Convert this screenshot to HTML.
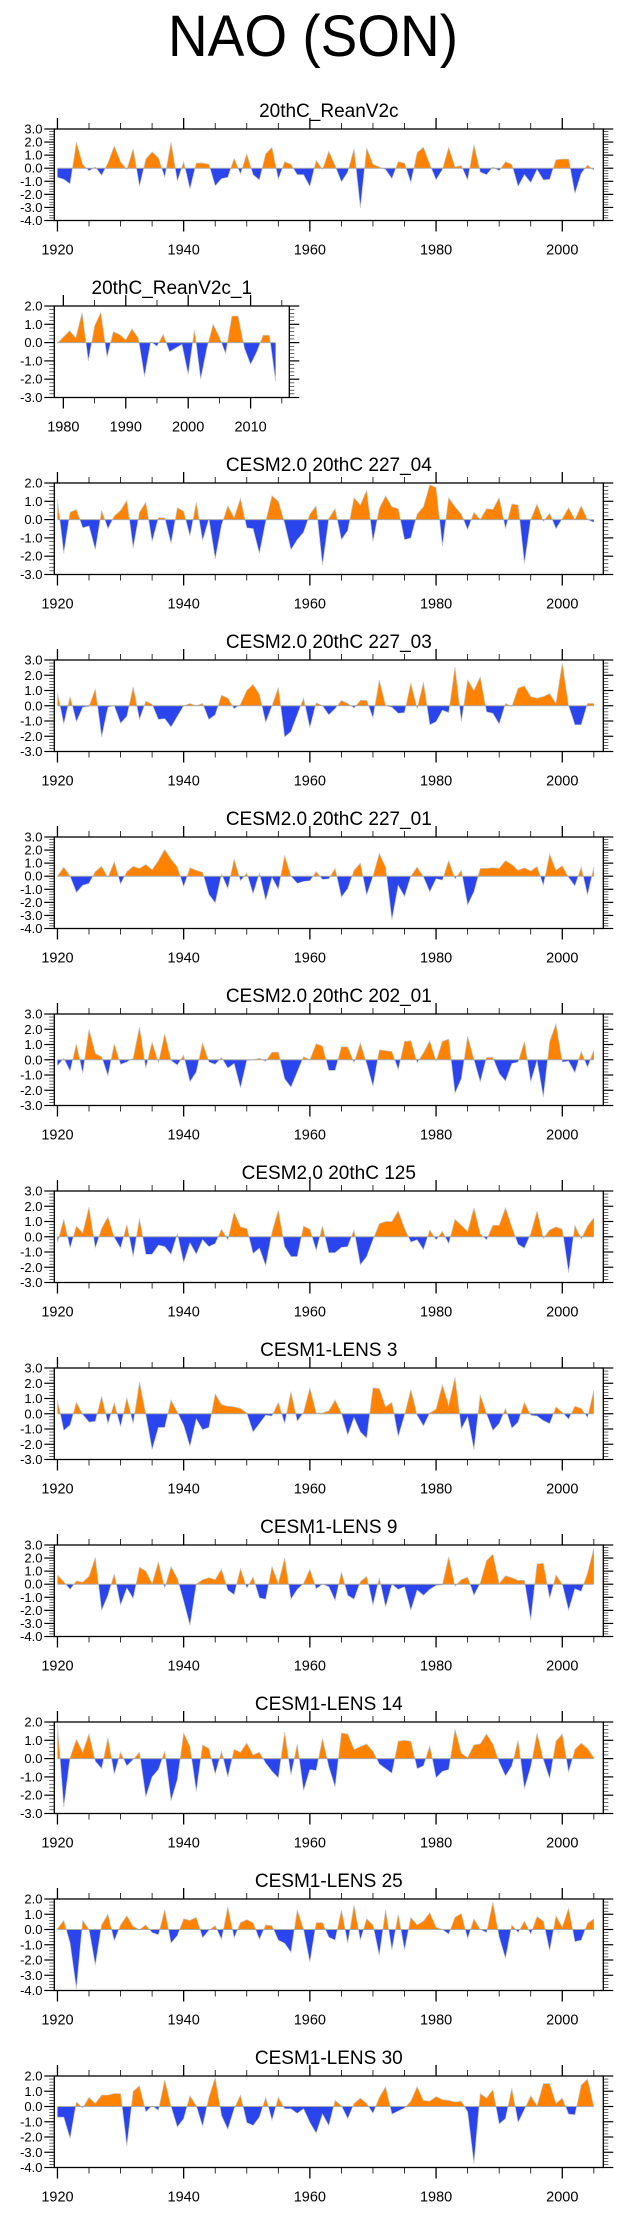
<!DOCTYPE html>
<html>
<head>
<meta charset="utf-8">
<style>
  html,body{margin:0;padding:0;background:#fff;}
  body{width:623px;height:2209px;overflow:hidden;}
  svg text{font-family:"Liberation Sans",Arial,sans-serif;fill:#000;}
</style>
</head>
<body>
<svg id="chart" width="623" height="2209" viewBox="0 0 623 2209" xmlns="http://www.w3.org/2000/svg">
  <text x="313" y="56" font-size="58" text-anchor="middle" textLength="290" lengthAdjust="spacingAndGlyphs">NAO (SON)</text>
</svg>
<script>
// ---- data (SON NAO index per year) ----
const panelTitles = ["20thC_ReanV2c","20thC_ReanV2c_1","CESM2.0 20thC 227_04","CESM2.0 20thC 227_03","CESM2.0 20thC 227_01","CESM2.0 20thC 202_01","CESM2,0 20thC 125","CESM1-LENS 3","CESM1-LENS 9","CESM1-LENS 14","CESM1-LENS 25","CESM1-LENS 30"];
const panelStartYears = [1920,1979,1920,1920,1920,1920,1920,1920,1920,1920,1920,1920];
const panelYMax = [3,2,2,3,3,3,3,3,3,2,2,2];
const panelYMin = [-4,-3,-3,-3,-4,-3,-3,-3,-4,-3,-4,-4];

const valsRean = [-0.7,-0.85,-1.2,2.0,0.3,-0.2,0.1,-0.55,0.4,1.7,0.5,-0.1,1.5,-1.4,0.7,1.25,0.8,-0.7,2.0,-1.0,0.5,-1.6,0.4,0.4,0.3,-1.35,-0.8,-0.7,0.75,-0.45,1.1,-0.5,-0.9,1.1,1.6,-0.85,0.5,0.3,-0.5,-0.5,-1.4,0.6,-0.1,1.3,0.2,-1.05,-0.3,1.5,-3.05,1.55,0.3,0.1,-0.1,-0.8,0.5,0.4,-1.1,1.2,1.6,0.3,-0.9,-0.1,1.6,0.1,0.2,-0.9,1.8,-0.3,-0.5,0.1,-0.2,0.5,0.3,-1.4,-0.5,-1.1,-0.1,-0.9,-0.85,0.65,0.7,0.7,-1.95,-0.4,0.25,-0.15];
const valsRean1 = [-0.05,0.3,0.65,0.25,1.65,-1.0,0.9,1.65,-0.8,0.6,0.45,0.15,0.75,0.25,-1.85,0.05,-0.2,0.45,-0.5,-0.3,-0.1,-1.75,0.7,-2.0,-0.3,1.0,0.3,-0.6,1.45,1.45,-0.3,-1.2,-0.5,0.4,0.4,-2.1];
const vals227_04 = [1.1,-1.85,0.4,0.55,-0.45,-0.35,-1.65,0.5,-0.5,0.2,0.5,1.05,-1.55,0.4,0.95,-1.2,0.1,0.1,-1.3,0.65,0.45,-0.9,0.95,-1.15,0.05,-2.15,-0.3,0.75,0.1,1.15,-0.45,-0.5,-1.85,-0.1,1.3,1.0,-0.2,-1.65,-1.1,-0.7,0.3,0.75,-2.5,0.05,0.6,-1.1,-0.6,1.2,0.8,1.6,-1.2,0.6,1.3,0.7,0.6,-1.1,-1.0,0.3,0.7,1.9,1.75,-1.45,1.2,0.7,0.3,-0.55,0.4,0.0,0.6,0.55,1.2,-0.5,0.85,0.8,-2.4,0.0,0.85,-0.1,0.35,-0.5,0.05,0.65,0.0,0.75,0.0,-0.15];
const vals227_03 = [0.85,-1.2,0.6,-1.05,-0.1,-0.05,1.1,-2.05,-0.1,0.0,-1.15,-0.7,1.25,-0.9,0.3,0.1,-0.9,-0.85,-1.4,-0.7,0.0,0.15,0.0,0.15,-0.9,-0.6,0.7,0.5,-0.2,0.1,1.0,1.4,0.75,-1.1,0.0,1.2,-2.05,-1.7,-0.6,0.5,-1.45,0.2,0.0,-0.6,-0.2,0.35,0.15,-0.15,0.35,0.35,-0.8,1.7,0.0,-0.1,-0.5,-0.45,1.5,-0.2,1.55,-1.25,-1.05,-0.3,-0.45,2.55,-1.05,1.7,1.0,1.9,-0.4,-0.5,-1.2,0.15,-0.05,1.15,1.3,0.6,0.5,0.6,0.8,0.15,2.8,0.0,-1.25,-1.25,0.15,0.15];
const vals227_01 = [0.0,0.7,0.0,-1.25,-0.7,-0.55,0.35,0.75,-0.1,1.1,-0.6,0.35,0.75,0.6,0.9,0.5,1.2,2.05,1.3,0.7,-0.8,0.65,0.45,0.3,-1.4,-2.05,0.15,-0.95,1.3,-0.35,0.25,-1.35,0.25,-1.85,-0.1,-1.0,1.6,0.0,-0.55,-0.4,-0.35,0.35,-0.25,-0.2,0.6,-1.6,-0.95,0.45,1.0,-1.45,0.0,1.75,0.7,-3.35,-0.7,-1.55,0.0,0.7,-0.05,-1.2,-0.2,-0.3,1.2,-0.2,0.45,-2.2,-1.2,0.6,0.6,0.65,0.6,1.2,0.9,0.45,0.65,0.4,0.75,-0.7,1.7,0.45,0.8,-0.1,-0.75,0.7,-1.45,0.7];
const vals202_01 = [-0.4,0.1,-0.75,1.05,-0.9,2.0,0.4,0.2,-1.05,1.05,-0.3,-0.15,0.1,2.15,-0.55,1.15,-0.2,1.7,-0.05,-0.35,0.3,-1.45,-0.8,1.1,-0.15,-0.3,0.15,-0.55,-0.25,-1.85,-0.05,0.0,0.1,-0.1,0.5,0.5,-1.25,-1.8,-0.8,0.2,0.0,1.05,0.9,-0.7,-0.7,0.85,0.85,-0.2,1.1,-0.25,-1.75,0.65,0.6,0.55,-0.65,1.2,1.25,-0.2,0.45,1.25,-0.1,1.2,1.35,-2.2,-1.25,1.55,0.0,-1.45,0.15,0.15,-0.9,-1.4,-0.25,-0.15,1.2,-1.45,-0.05,-2.45,1.2,2.35,-0.15,-0.1,-0.85,0.55,-0.5,0.65];
const vals125 = [-0.4,1.15,-0.75,0.7,0.25,1.95,-0.75,0.55,1.3,-0.05,-0.75,0.8,-1.3,1.2,-1.15,-1.15,-0.55,-0.65,-1.15,0.2,-1.7,-0.4,-1.15,-0.2,-0.65,-0.45,0.5,-0.2,1.6,0.65,0.55,-1.1,-0.75,-1.9,0.3,1.75,-0.65,-1.3,-1.3,0.7,0.5,-0.9,0.7,-1.05,-1.05,-0.7,-0.65,0.45,-1.85,-1.3,-0.2,0.85,1.0,1.0,1.7,0.55,-0.35,-0.2,-0.85,0.45,-0.2,0.35,-0.45,1.15,0.75,0.35,1.9,0.2,-0.2,0.75,0.75,1.9,0.65,-0.5,-0.75,0.2,1.7,-0.1,0.45,0.65,0.5,-2.35,0.75,-0.15,0.7,1.25];
const valsLens3 = [0.9,-1.1,-0.75,0.75,-0.05,-0.55,-0.5,1.15,-0.65,0.7,-0.85,1.05,-0.65,2.1,-0.05,-2.35,-0.9,-0.9,0.9,0.1,-0.75,-2.15,-0.35,-1.05,-0.9,1.3,0.6,0.5,0.45,0.35,0.05,-1.2,-0.65,-0.1,-0.15,0.75,-0.65,1.45,-0.5,0.1,1.7,0.05,0.05,0.2,0.9,0.05,-1.4,-0.25,-1.2,-1.6,1.7,1.65,0.45,0.75,-1.5,-0.1,1.6,-0.1,-0.8,0.05,0.3,1.9,0.55,2.4,-1.0,-0.2,-2.35,1.25,0.0,-1.1,-0.65,0.35,-0.95,-0.55,0.75,-0.1,-0.15,-0.45,-0.65,0.45,0.1,-0.35,0.5,0.35,-0.25,1.55];
const valsLens9 = [0.7,0.2,-0.4,0.25,0.15,0.6,2.05,-2.0,-0.85,0.8,-1.6,-0.3,-1.1,1.3,1.0,0.05,1.7,-0.3,1.35,0.45,-1.3,-3.15,0.0,0.35,0.5,0.35,1.15,-0.45,-0.8,1.2,-0.3,0.55,-1.05,-1.15,1.35,0.05,2.0,-1.15,-0.4,0.05,1.15,-0.35,0.0,-0.2,-1.25,0.95,-0.85,-1.15,0.2,0.6,-1.6,0.5,-1.75,0.0,-0.4,-0.2,-2.0,-0.45,-0.85,-0.4,-0.1,-0.05,2.1,-0.15,0.35,0.55,-0.85,0.1,1.8,2.3,0.05,0.65,0.5,0.3,0.3,-2.75,1.55,1.6,-1.1,0.7,0.0,-2.0,-0.35,-0.55,0.85,2.75];
const valsLens14 = [1.85,-2.65,0.05,1.05,0.35,1.35,-0.15,-0.55,1.15,-0.85,0.35,-0.4,-0.05,0.35,-2.1,-1.0,-0.6,0.4,-2.3,-1.15,1.4,0.65,-1.8,0.75,0.55,-0.85,0.4,-1.0,0.5,0.35,0.85,0.2,0.35,-0.25,-0.7,-1.05,1.45,-0.9,0.8,-1.75,-0.6,-0.65,1.1,-0.45,-1.55,1.4,1.35,0.5,0.65,0.8,0.4,-0.3,-0.55,-0.8,0.95,1.0,0.95,-0.55,-0.4,0.7,-1.05,-0.7,-0.6,1.6,0.3,0.05,0.75,0.8,1.35,0.8,-0.2,-0.95,-0.4,1.0,-1.65,-0.45,1.4,-0.05,-1.1,0.95,1.35,-0.75,0.5,0.85,0.55,0.05];
const valsLens25 = [0.05,0.6,-0.9,-3.9,0.6,0.0,-2.35,0.3,1.0,-0.75,0.3,0.9,0.2,0.0,0.3,-0.2,-0.35,1.3,-0.9,-0.4,0.7,0.6,0.8,-0.55,-0.05,0.25,-0.65,1.5,-0.55,0.45,0.65,0.45,-0.65,0.3,0.25,-0.7,-0.9,-1.5,1.3,0.0,-2.15,0.45,0.45,-0.5,-0.7,1.3,-0.9,1.6,-0.7,0.7,0.3,-1.7,1.3,-1.35,1.0,-1.35,0.8,0.3,0.55,1.1,0.15,0.0,-0.3,0.8,1.05,-0.6,0.7,0.0,-0.2,1.8,-0.5,-1.9,0.3,-0.2,0.55,-0.3,0.85,0.55,-1.4,0.9,0.15,1.4,-0.8,-0.7,0.4,0.7];
const valsLens30 = [-0.7,-0.7,-2.1,0.3,-0.1,0.6,0.2,0.75,0.75,0.85,0.85,-2.6,1.0,1.35,-0.35,0.05,-0.25,1.75,0.0,-1.35,-0.8,0.7,0.05,-1.3,0.6,1.9,-0.6,-1.5,-0.15,0.75,-1.05,-1.25,-0.7,0.6,-0.9,0.6,-0.15,-0.15,-0.45,-0.15,-1.05,-1.75,-0.5,-1.25,0.4,0.05,-0.8,0.2,0.55,0.2,-0.45,0.6,1.3,-0.5,-0.3,-0.1,0.35,1.3,0.4,0.35,0.65,0.45,0.4,0.3,0.35,-0.35,-3.75,0.85,0.55,1.1,-1.15,-0.8,1.2,-1.05,-0.2,0.7,0.05,1.5,1.5,0.2,0.55,-0.5,-0.55,1.4,1.8,0.0];

const panelValues = [valsRean,valsRean1,vals227_04,vals227_03,vals227_01,vals202_01,vals125,valsLens3,valsLens9,valsLens14,valsLens25,valsLens30];

// ---- drawing ----
const NS = "http://www.w3.org/2000/svg";
const svg = document.getElementById("chart");
const ORANGE = "#ff8300", BLUE = "#2a45ee";
function mk(tag, attrs, parent){
  const e = document.createElementNS(NS, tag);
  for (const k in attrs) e.setAttribute(k, attrs[k]);
  (parent||svg).appendChild(e);
  return e;
}

panelValues.forEach(function(vals, i){
  const top = 129 + 177*i, H = 91.5, bottom = top + H;
  const small = (i === 1);
  const left = 54.3, right = small ? 289.3 : 603.3;
  const xMin = small ? 1978.55 : 1919.5;
  const xMax = small ? 2016.2 : 2006.5;
  const yMax = panelYMax[i], yMin = panelYMin[i];
  const xs = function(yr){ return left + (yr - xMin)/(xMax - xMin)*(right-left); };
  const ys = function(v){ return top + (yMax - v)/(yMax - yMin)*H; };
  const start = panelStartYears[i];
  const g = mk("g", {});
  
  

  // title
  const t = mk("text", {x:(left+right)/2, y: top-12, "font-size":19, "text-anchor":"middle"}, g);
  t.textContent = panelTitles[i];
  
  

  // area
  const z = ys(0);
  let d = "M" + xs(start).toFixed(2) + "," + z.toFixed(2);
  let ld = "";
  vals.forEach(function(v, k){
    const px = xs(start+k).toFixed(2), py = ys(v).toFixed(2);
    d += " L" + px + "," + py;
    ld += (k ? " L" : "M") + px + "," + py;
  });
  d += " L" + xs(start+vals.length-1).toFixed(2) + "," + z.toFixed(2) + " Z";
  const cidA = "ca"+i, cidB = "cb"+i;
  const defs = mk("defs", {}, g);
  const cpA = mk("clipPath", {id:cidA}, defs);
  mk("rect", {x:left, y:top, width:right-left, height:z-top}, cpA);
  const cpB = mk("clipPath", {id:cidB}, defs);
  mk("rect", {x:left, y:z, width:right-left, height:bottom-z}, cpB);
  const pos = mk("path", {d:d, fill:ORANGE, "clip-path":"url(#"+cidA+")"}, g);
  
  
  const neg = mk("path", {d:d, fill:BLUE, "clip-path":"url(#"+cidB+")"}, g);
  
  
  const ln = mk("path", {d:ld, fill:"none", stroke:"#c8c8c8", "stroke-width":0.7}, g);
  
  
  const zl = mk("line", {x1:xs(start), x2:xs(start+vals.length-1), y1:z, y2:z, stroke:"#aaaaaa", "stroke-width":1}, g);
  
  

  // frame
  const fr = mk("rect", {x:left, y:top, width:right-left, height:H, fill:"none", stroke:"#000", "stroke-width":1.3}, g);
  
  

  // x ticks
  const majStep = small ? 10 : 20;
  for (let yr = Math.ceil(xMin/5)*5; yr <= xMax; yr += 5){
    const x = xs(yr), major = (yr % majStep === 0);
    const L = major ? 11 : 6;
    mk("line", {x1:x, x2:x, y1:top, y2:top-L, stroke:"#000", "stroke-width":major?1.3:0.8}, g);
    mk("line", {x1:x, x2:x, y1:bottom, y2:bottom+L, stroke:"#000", "stroke-width":major?1.3:0.8}, g);
    if (major){
      const xl = mk("text", {x:x, y:bottom+34, "font-size":14.5, "text-anchor":"middle"}, g);
      xl.textContent = String(yr);
      
      
    }
  }
  // y ticks
  for (let k = Math.round(yMin*5); k <= Math.round(yMax*5); k++){
    const v = k/5, y = ys(v), major = (k % 5 === 0);
    const L = major ? 10 : 5;
    mk("line", {x1:left, x2:left-L, y1:y, y2:y, stroke:"#000", "stroke-width":major?1.2:0.6}, g);
    mk("line", {x1:right, x2:right+L, y1:y, y2:y, stroke:"#000", "stroke-width":major?1.2:0.6}, g);
    if (major){
      const yl = mk("text", {x:42.5, y:y+4.5, "font-size":13, "text-anchor":"end"}, g);
      yl.textContent = v.toFixed(1);
      
      
    }
  }
});
</script>
</body>
</html>
